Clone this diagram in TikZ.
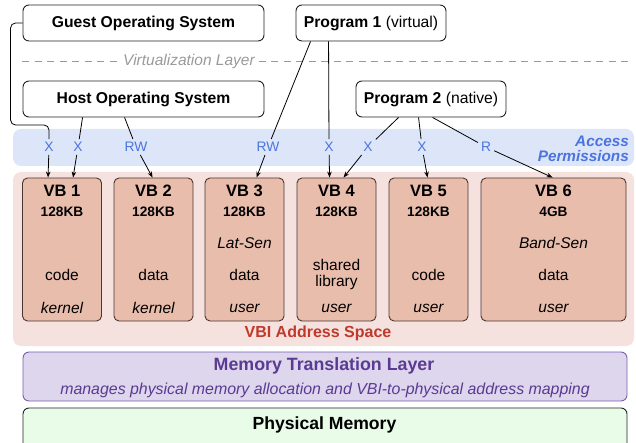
\documentclass[tikz,border=0pt]{standalone}
\usepackage{fontspec}
\setmainfont{Liberation Sans}
\usetikzlibrary{arrows.meta}

\definecolor{permfill}{HTML}{DCE6F8}
\definecolor{permtext}{HTML}{4C74E0}
\definecolor{vbifill}{HTML}{F5E1DE}
\definecolor{vbfill}{HTML}{E9BDAC}
\definecolor{vbdraw}{HTML}{4A3630}
\definecolor{vbitext}{HTML}{C0392B}
\definecolor{mtlfill}{HTML}{DDD6EC}
\definecolor{mtldraw}{HTML}{7B5DB0}
\definecolor{mtltext}{HTML}{5A3A92}
\definecolor{physfill}{HTML}{E8FCE8}
\definecolor{layergray}{HTML}{9A9A9A}
\definecolor{boxdraw}{HTML}{222222}

\tikzset{
  osbox/.style={draw=boxdraw, line width=0.9pt, rounded corners=6pt, fill=white,
    minimum height=36pt, inner sep=0pt, font=\fontsize{15.7}{18}\selectfont\bfseries},
  band/.style={rounded corners=8pt, draw=none, inner sep=0pt},
  vbbox/.style={draw=vbdraw, fill=vbfill, line width=0.9pt, rounded corners=5pt,
    minimum height=143pt, inner sep=0pt},
  vbtitle/.style={font=\fontsize{16.5}{18}\selectfont\bfseries, inner sep=0pt},
  vbsize/.style={font=\fontsize{13.7}{16}\selectfont\bfseries, inner sep=0pt},
  vbtext/.style={font=\fontsize{15.5}{16}\selectfont, inner sep=0pt, align=center},
  vbital/.style={font=\fontsize{15.5}{16}\selectfont\itshape, inner sep=0pt},
  perm/.style={text=permtext, font=\fontsize{13.8}{16}\selectfont, inner sep=3pt},
  permhead/.style={text=permtext, font=\fontsize{15.3}{16}\selectfont\bfseries\itshape,
    anchor=east, inner sep=0pt},
  conn/.style={draw=black, line width=0.8pt},
  connarrow/.style={conn, -{Stealth[length=6pt,width=4.5pt]}},
}

% one VB block: name, x centre, width, title, size, owner
\newcommand\vbblock[6]{%
  \node[vbbox, minimum width=#3pt] (#1) at (#2,249.5) {};
  \node[vbtitle] (#1-title) at (#2,191) {#4};
  \node[vbsize] (#1-size) at (#2,212) {#5};
  \node[vbital] (#1-owner) at (#2,308) {#6};
}

\begin{document}
\begin{tikzpicture}[x=1pt, y=-1pt]
\useasboundingbox (0,0) rectangle (636,443);
\clip (0,0) rectangle (636,443);

% background layers
\node[band, fill=permfill, minimum width=621pt, minimum height=37pt] (permband) at (323.5,147.5) {};
\node[band, fill=vbifill, minimum width=621pt, minimum height=174pt] (vbiband) at (323.5,259) {};
\node[permhead] (permlabel1) at (629,141.8) {Access};
\node[permhead] (permlabel2) at (629,156) {Permissions};
\node[text=vbitext, font=\fontsize{16}{18}\selectfont\bfseries, inner sep=0pt] (vbilabel)
      at (318,333) {VBI Address Space};

% software boxes
\node[osbox, minimum width=241pt] (guest) at (143.5,23) {Guest Operating System};
\node[osbox, minimum width=150pt] (prog1) at (371,23) {Program 1 \mdseries(virtual)};
\node[osbox, minimum width=241pt] (host) at (143.5,99) {Host Operating System};
\node[osbox, minimum width=150pt] (prog2) at (431,99) {Program 2 \mdseries(native)};

% virtualization layer
\node[text=layergray, font=\fontsize{15.5}{18}\selectfont\itshape, inner sep=4pt] (vlayer)
      at (189,61) {Virtualization Layer};
\coordinate (vl-left) at (22,61);
\coordinate (vl-right) at (632,61);
\draw[layergray, line width=0.8pt, dash pattern=on 7pt off 5.5pt] (vl-left) -- (vlayer.west);
\draw[layergray, line width=0.8pt, dash pattern=on 7pt off 5.5pt] (vlayer.east) -- (vl-right);

% virtual blocks
\vbblock{vb1}{62}{79}{VB 1}{128KB}{kernel}
\vbblock{vb2}{153.5}{79}{VB 2}{128KB}{kernel}
\vbblock{vb3}{244.5}{79}{VB 3}{128KB}{user}
\vbblock{vb4}{336.5}{79}{VB 4}{128KB}{user}
\vbblock{vb5}{428.5}{79}{VB 5}{128KB}{user}
\vbblock{vb6}{553.5}{145}{VB 6}{4GB}{user}
\node[vbital] (vb3-sens) at (244.5,243) {Lat-Sen};
\node[vbital] (vb6-sens) at (553.5,243) {Band-Sen};
\node[vbtext] (vb1-kind) at (62,275) {code};
\node[vbtext] (vb2-kind) at (153.5,275) {data};
\node[vbtext] (vb3-kind) at (244.5,275) {data};
\node[vbtext] (vb4-kind) at (336.5,274) {shared\\library};
\node[vbtext] (vb5-kind) at (428.5,275) {code};
\node[vbtext] (vb6-kind) at (553.5,275) {data};

% memory translation and physical memory
\node[draw=mtldraw, fill=mtlfill, line width=0.9pt, rounded corners=6pt,
      minimum width=604pt, minimum height=49pt, inner sep=0pt] (mtl) at (325,376.5) {};
\node[text=mtltext, font=\fontsize{17.8}{20}\selectfont\bfseries, inner sep=0pt] (mtl-title)
      at (324,366) {Memory Translation Layer};
\node[text=mtltext, font=\fontsize{15.9}{18}\selectfont\itshape, inner sep=0pt] (mtl-sub)
      at (325,390) {manages physical memory allocation and VBI-to-physical address mapping};
\node[draw=boxdraw, fill=physfill, line width=0.9pt, rounded corners=6pt,
      minimum width=604pt, minimum height=50pt, inner sep=0pt] (phys) at (325,433) {};
\node[font=\fontsize{17.6}{20}\selectfont\bfseries, inner sep=0pt] (phys-title)
      at (324.5,425) {Physical Memory};

% access permission labels
\node[perm] (p1) at (49,147) {X};
\node[perm] (p2) at (78,147) {X};
\node[perm] (p3) at (136,147) {RW};
\node[perm] (p4) at (268,147) {RW};
\node[perm] (p5) at (329,147) {X};
\node[perm] (p6) at (368,147) {X};
\node[perm] (p7) at (422,147) {X};
\node[perm] (p8) at (486,147) {R};

% connectors: owner -> permission
\draw[conn, rounded corners=5pt] (guest.west) -- ++(-12,0) -- ++(0,102) -| (p1);
\draw[conn] ([xshift=60pt]host.south west) -- (p2);
\draw[conn] ([xshift=102pt]host.south west) -- (p3);
\draw[conn] ([xshift=15pt]prog1.south west) -- (p4);
\draw[conn] ([xshift=33pt]prog1.south west) -- (p5);
\draw[conn] ([xshift=43pt]prog2.south west) -- (p6);
\draw[conn] ([xshift=63pt]prog2.south west) -- (p7);
\draw[conn] ([xshift=77pt]prog2.south west) -- (p8);

% connectors: permission -> block
\draw[connarrow] (p1) -- ([xshift=26pt]vb1.north west);
\draw[connarrow] (p2) -- ([xshift=51pt]vb1.north west);
\draw[connarrow] (p3) -- ([xshift=39pt]vb2.north west);
\draw[connarrow] (p4) -- ([xshift=52pt]vb3.north west);
\draw[connarrow] (p5) -- ([xshift=33pt]vb4.north west);
\draw[connarrow] (p6) -- ([xshift=47pt]vb4.north west);
\draw[connarrow] (p7) -- ([xshift=39pt]vb5.north west);
\draw[connarrow] (p8) -- ([xshift=72pt]vb6.north west);
\end{tikzpicture}
\end{document}
